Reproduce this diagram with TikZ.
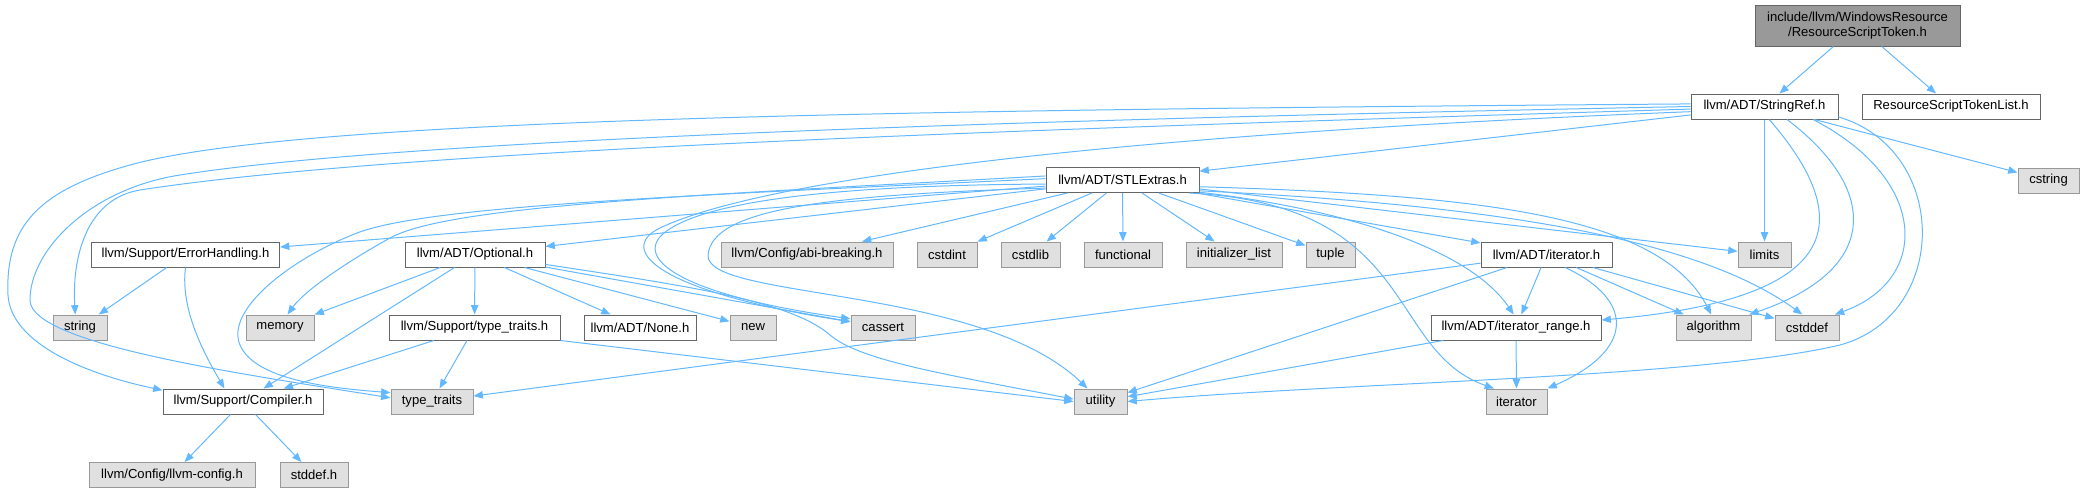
\documentclass[tikz,border=0pt]{standalone}
\usepackage{fontspec}
\setmainfont{Liberation Sans}
\usetikzlibrary{arrows.meta}

\definecolor{edgeblue}{HTML}{63B8FF}
\definecolor{boxframe}{HTML}{666666}
\definecolor{sysframe}{HTML}{999999}
\definecolor{sysfill}{HTML}{E0E0E0}
\definecolor{rootfill}{HTML}{999999}

\begin{document}
\begin{tikzpicture}
    [
    x=0.75pt, y=-0.75pt, font=\fontsize{9.8}{11.25}\selectfont,
    >={Triangle[length=7pt,width=5.5pt]},
    %box styles
    hdr/.style={draw=boxframe, fill=white, line width=0.75pt, minimum height=18.75pt, inner sep=0pt},
    sysinc/.style={hdr, draw=sysframe, fill=sysfill},
    mainhdr/.style={hdr, fill=rootfill, minimum height=30.75pt, align=center},
    wd/.style={minimum width=#1*0.75pt},
    dep/.style={->, draw=edgeblue, line width=0.75pt}
    ]

    %frame of the picture
    \useasboundingbox (0,0) rectangle (2084,493);

    %first rows
    \node[mainhdr, wd=205] (root) at (1857.5,25.5) {include/llvm/WindowsResource\\/ResourceScriptToken.h};
    \node[hdr, wd=147] (sref) at (1764.5,106.5) {llvm/ADT/StringRef.h};
    \node[hdr, wd=178] (rstl) at (1951,106.5) {ResourceScriptTokenList.h};
    \node[hdr, wd=153] (stlx) at (1122.5,180) {llvm/ADT/STLExtras.h};
    \node[sysinc, wd=61] (cstring) at (2048.5,180.5) {cstring};

    %row of STLExtras includes
    \node[hdr, wd=188] (errh) at (185.5,254.5) {llvm/Support/ErrorHandling.h};
    \node[hdr, wd=140] (opt) at (475,254.5) {llvm/ADT/Optional.h};
    \node[sysinc, wd=172] (abi) at (807,254.5) {llvm/Config/abi-breaking.h};
    \node[sysinc, wd=60] (cstdint) at (947,254.5) {cstdint};
    \node[sysinc, wd=59] (cstdlib) at (1030.5,254.5) {cstdlib};
    \node[sysinc, wd=78] (functional) at (1123,254.5) {functional};
    \node[sysinc, wd=96] (initlist) at (1234,254.5) {initializer\_list};
    \node[sysinc, wd=49] (tuple) at (1330.5,254.5) {tuple};
    \node[hdr, wd=131] (iterh) at (1546.5,254.5) {llvm/ADT/iterator.h};
    \node[sysinc, wd=53] (limits) at (1764.5,254.5) {limits};

    %middle row
    \node[sysinc, wd=54] (string) at (80,327.5) {string};
    \node[sysinc, wd=68] (memory) at (280,327.5) {memory};
    \node[hdr, wd=171] (sttraits) at (474.5,327.5) {llvm/Support/type\_traits.h};
    \node[hdr, wd=112] (none) at (640,327.5) {llvm/ADT/None.h};
    \node[sysinc, wd=46] (new) at (753,327.5) {new};
    \node[sysinc, wd=64] (cassert) at (883,327.5) {cassert};
    \node[hdr, wd=170] (iterrange) at (1516,327.5) {llvm/ADT/iterator\_range.h};
    \node[sysinc, wd=75] (algorithm) at (1713.5,327.5) {algorithm};
    \node[sysinc, wd=64] (cstddef) at (1807,327.5) {cstddef};

    %bottom rows
    \node[hdr, wd=160] (compiler) at (243,401.5) {llvm/Support/Compiler.h};
    \node[sysinc, wd=82] (typetraits) at (432,401.5) {type\_traits};
    \node[sysinc, wd=53] (utility) at (1100.5,401.5) {utility};
    \node[sysinc, wd=61] (iterator) at (1516.5,401.5) {iterator};
    \node[sysinc, wd=166] (llvmconfig) at (172,475) {llvm/Config/llvm-config.h};
    \node[sysinc, wd=68] (stddef) at (314,475) {stddef.h};

    %straight includes
    \foreach \a/\b in {root/sref, root/rstl, sref/stlx, sref/cstring, sref/limits,
      stlx/errh, stlx/opt, stlx/abi, stlx/cstdint, stlx/cstdlib, stlx/functional,
      stlx/initlist, stlx/tuple, stlx/limits, stlx/iterh, errh/string,
      opt/memory, opt/compiler, opt/sttraits, opt/none, opt/new, opt/cassert,
      sttraits/compiler, sttraits/typetraits, iterh/iterrange, iterh/algorithm,
      iterh/cstddef, iterh/utility, iterh/typetraits, iterrange/iterator,
      iterrange/utility, compiler/llvmconfig, compiler/stddef}
    \draw[dep] (\a) -- (\b);
    \draw[dep] (sttraits.south east) -- (utility.west);

    %StringRef, long ways round the left side
    \draw[dep] (sref.178) .. controls (900,110) and (300,118) .. (130,165)
      .. controls (40,190) and (5,225) .. (8,295)
      .. controls (11,345) and (90,375) .. (compiler.172);
    \draw[dep] (sref.180) .. controls (1000,120) and (400,140) .. (180,175)
      .. controls (90,189) and (30,250) .. (30,300)
      .. controls (30,345) and (250,375) .. (typetraits.175);
    \draw[dep] (sref.182) .. controls (1000,130) and (400,150) .. (140,190)
      .. controls (85,199) and (72,260) .. (string.110);
    \draw[dep] (sref.184) .. controls (1100,135) and (760,180) .. (660,228)
      .. controls (615,250) and (660,292) .. (cassert.170);

    %StringRef, right side
    \draw[dep] (sref.-70) .. controls (1865,230) and (1830,300) .. (iterrange.5);
    \draw[dep] (sref.-30) .. controls (1880,190) and (1880,270) .. (algorithm.20);
    \draw[dep] (sref.-15) .. controls (1930,180) and (1930,280) .. (cstddef.25);
    \draw[dep] (sref.-8) .. controls (1950,150) and (1950,315) .. (1840,345)
      .. controls (1700,378) and (1350,382) .. (utility.east);

    %STLExtras, curved ones
    \draw[dep] (stlx.177) .. controls (700,195) and (450,205) .. (390,238)
      .. controls (350,260) and (305,290) .. (memory.60);
    \draw[dep] (stlx.179) .. controls (700,195) and (430,205) .. (357,233)
      .. controls (290,259) and (225,310) .. (240,345)
      .. controls (255,380) and (330,388) .. (typetraits.168);
    \draw[dep] (stlx.183) .. controls (880,185) and (720,195) .. (668,230)
      .. controls (628,257) and (680,295) .. (cassert.165);
    \draw[dep] (stlx.186) .. controls (820,195) and (712,210) .. (708,255)
      .. controls (705,300) and (980,285) .. (utility.135);
    \draw[dep] (stlx.-9) .. controls (1350,210) and (1470,250) .. (iterrange.100);
    \draw[dep] (stlx.-5) .. controls (1480,195) and (1660,215) .. (algorithm.100);
    \draw[dep] (stlx.-8) .. controls (1500,205) and (1700,240) .. (cstddef.110);
    \draw[dep] (stlx.-11) .. controls (1420,205) and (1385,350) .. (iterator.150);

    %the rest
    \draw[dep] (opt.-8) .. controls (680,285) and (790,300) .. (830,335)
      .. controls (860,361) and (950,375) .. (utility.175);
    \draw[dep] (errh.south) .. controls (180,310) and (205,355) .. (compiler.145);
    \draw[dep] (iterh.-35) .. controls (1635,300) and (1635,350) .. (iterator.north east);
\end{tikzpicture}
\end{document}
